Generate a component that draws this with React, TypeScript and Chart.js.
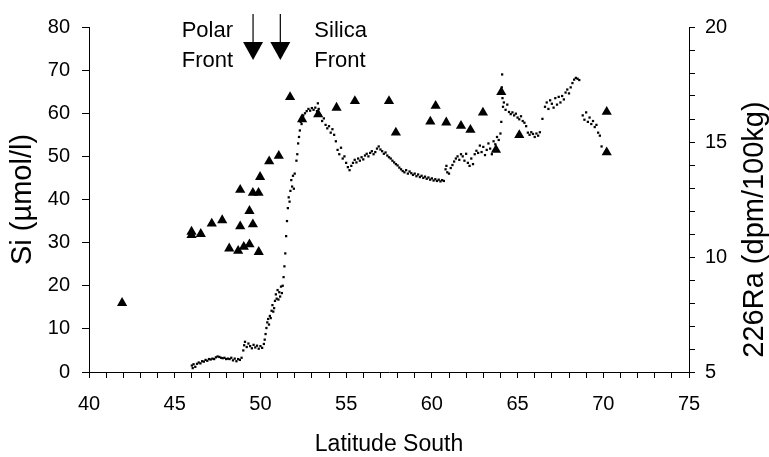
import { useEffect, useRef } from 'react';
import { Chart, registerables } from 'chart.js';

Chart.register(...registerables);

// 226Ra samples (right axis, dpm/100kg)
const raLatitude = [
  41.93, 45.98, 45.98, 46.52, 47.16, 47.77, 48.18, 48.82, 48.82, 48.7,
  49.03, 49.36, 49.36, 49.56, 49.56, 49.89, 49.9, 49.98, 50.51, 51.07,
  51.73, 52.43, 53.37, 54.44, 55.51, 57.5, 57.9, 59.91, 60.22, 60.84,
  61.7, 62.25, 62.98, 63.74, 64.05, 65.1, 70.2, 70.2,
];
const raValues = [
  8.0, 11.1, 10.95, 11.0, 11.45, 11.6, 10.37, 12.92, 11.33, 10.27,
  10.44, 10.55, 12.0, 12.79, 11.42, 12.79, 10.22, 13.48, 14.16, 14.4,
  16.95, 15.99, 16.2, 16.49, 16.78, 16.78, 15.41, 15.89, 16.57, 15.85,
  15.7, 15.53, 16.28, 14.66, 17.17, 15.3, 16.31, 14.55,
];

// Underway silicate (left axis, µmol/l)
const siLatitude = [
  46.0, 46.05, 46.1, 46.2, 46.3, 46.4, 46.5, 46.6, 46.7, 46.8, 46.9, 47.0, 47.1, 47.2, 47.3, 47.4,
  47.5, 47.6, 47.7, 47.8, 47.9, 48.0, 48.1, 48.2, 48.3, 48.4, 48.5, 48.6, 48.7, 48.8, 48.9,
  49.0, 49.05, 49.1, 49.2, 49.3, 49.4, 49.5, 49.6, 49.7, 49.8, 49.9, 50.0, 50.1, 50.2,
  50.25, 50.3, 50.35, 50.4, 50.45, 50.5, 50.55, 50.6, 50.65, 50.7, 50.75, 50.8, 50.85, 50.9,
  50.95, 51.0, 51.05, 51.1, 51.15, 51.2, 51.25, 51.3, 51.35, 51.4, 51.45, 51.5, 51.55, 51.6,
  51.65, 51.7, 51.75, 51.8, 51.85, 51.9, 51.95, 52.0, 52.1, 52.15, 52.2, 52.25, 52.3, 52.35, 52.4,
  52.5, 52.6, 52.7, 52.8, 52.9, 53.0, 53.1, 53.2, 53.3, 53.35, 53.4, 53.5, 53.6, 53.7, 53.8,
  53.9, 54.0, 54.1, 54.2, 54.3, 54.4,
  54.5, 54.6, 54.7, 54.8, 54.9, 55.0, 55.1, 55.2, 55.3, 55.4, 55.5, 55.6, 55.7, 55.8, 55.9,
  56.0, 56.1, 56.2, 56.3, 56.4, 56.5, 56.6, 56.7, 56.8, 56.9, 57.0, 57.1, 57.2, 57.3, 57.4,
  57.5, 57.6, 57.7, 57.8, 57.9, 58.0, 58.1, 58.2, 58.3, 58.4, 58.5, 58.6, 58.7, 58.8, 58.9,
  59.0, 59.1, 59.2, 59.3, 59.4, 59.5, 59.6, 59.7, 59.8, 59.9, 60.0, 60.1, 60.2, 60.3, 60.4,
  60.5, 60.6, 60.7,
  60.8, 60.85, 60.9, 61.0, 61.1, 61.2, 61.3, 61.4, 61.5, 61.6, 61.7, 61.8, 61.9, 62.0, 62.1,
  62.2, 62.3, 62.4, 62.5, 62.6, 62.7, 62.8, 62.9, 63.0, 63.1, 63.2, 63.3, 63.4, 63.5, 63.6,
  63.7, 63.8, 63.9, 64.0,
  64.05, 64.08, 64.1, 64.12, 64.15, 64.2, 64.3, 64.4, 64.5, 64.6, 64.7, 64.8, 64.9, 65.0,
  65.1, 65.2, 65.3, 65.4, 65.5, 65.6, 65.7, 65.8, 65.9, 66.0, 66.1, 66.2, 66.3, 66.45,
  66.6, 66.7, 66.8, 66.9, 67.0, 67.1, 67.2, 67.3, 67.4, 67.5, 67.6, 67.7, 67.8, 67.9, 68.0,
  68.1, 68.2, 68.3, 68.4, 68.5, 68.6,
  68.8, 68.9, 69.0, 69.1, 69.2, 69.3, 69.4, 69.5, 69.6, 69.7, 69.8, 69.9,
];
const siValues = [
  1.5, 0.9, 1.8, 1.2, 1.9, 2.2, 2.0, 2.5, 2.4, 2.8, 2.6, 3.0, 2.9, 3.1, 3.0, 3.4,
  3.6, 3.5, 3.3, 3.2, 3.3, 3.0, 3.1, 3.0, 3.3, 2.7, 3.1, 2.5, 3.0, 2.8, 3.3,
  5.0, 6.2, 7.0, 5.8, 6.6, 6.0, 5.5, 6.3, 5.7, 6.1, 5.4, 6.0, 5.6, 6.5,
  7.5, 8.8, 10.2, 11.5, 12.3, 11.0, 13.0, 12.5, 14.2, 15.5, 14.0, 14.8, 16.5, 18.0,
  17.0, 19.0, 16.8, 18.5, 17.5, 19.8, 18.3, 20.0, 22.0, 24.5, 27.5, 31.5, 35.0, 38.0,
  40.5, 39.5, 42.0, 44.5, 43.0, 45.5, 42.5, 46.0, 49.0, 50.5, 53.0, 54.5, 56.0, 58.0, 57.5,
  59.5, 60.0, 60.5, 61.0, 60.6, 61.2, 60.8, 61.3, 60.5, 62.3, 61.0, 59.5, 58.2, 58.8, 57.3,
  56.5, 57.0, 55.5, 56.3, 55.0, 53.5,
  51.5, 50.5, 52.0, 49.5, 50.0, 48.5, 47.5, 46.8, 47.8, 48.5, 49.2, 48.6, 49.5, 49.0, 49.8,
  49.3, 50.2, 50.6, 50.0, 50.8, 51.2, 50.5, 51.0, 51.8, 52.3, 51.6, 51.2, 50.6, 50.9, 50.2,
  49.8, 49.5, 49.0, 48.6, 48.2, 47.9, 47.4, 47.0, 46.6, 46.3, 46.8, 46.0, 46.5, 46.1, 45.7,
  46.0, 45.4, 45.8, 45.2, 45.5, 45.0, 45.3, 44.8, 45.1, 44.6, 44.9, 44.4, 44.7, 44.3, 44.6,
  44.2, 44.5, 44.3,
  47.0, 47.8, 46.3, 46.0, 47.3, 48.0, 48.8, 49.5, 50.0, 49.2, 50.5, 50.0, 49.0, 50.6, 48.5,
  47.8, 49.5, 48.2, 50.5, 51.3, 50.8, 52.5, 51.0, 52.2, 50.3, 51.5, 53.0, 51.8, 50.5, 53.5,
  52.8, 54.5, 53.8, 55.3,
  58.0, 66.0, 69.0, 63.5, 61.5, 62.5, 60.8, 62.0, 60.3, 59.8, 60.2, 59.5, 59.9, 59.0,
  58.6, 59.3, 58.2, 57.8, 57.0, 55.5, 55.0, 55.6, 55.2, 54.5, 55.3, 54.8, 55.6, 58.7,
  61.5, 62.5, 61.0, 63.0, 62.2, 61.3, 63.5, 62.0, 63.8, 62.5, 64.0, 63.2, 64.8, 65.5, 64.6,
  66.0, 67.0, 67.8, 68.2, 68.0, 67.7,
  59.5, 58.5, 60.2, 58.0, 59.0, 57.5, 58.2, 56.8, 57.3, 55.5, 54.8, 52.3,
];

// Front positions (latitude) and their labels
const frontLatitudes = [49.57, 51.16];
const frontLabels = [
  ['Polar', 'Front'],
  ['Silica', 'Front'],
];

const xLabelEvery = 5;
const rightLabelEvery = 5;

const FONT = '"Liberation Sans", Arial, Helvetica, sans-serif';

export default function App() {
  const ref = useRef<HTMLCanvasElement>(null);

  useEffect(() => {
    if (!ref.current) return;

    const frontsPlugin = {
      id: 'frontsAndRightTitle',
      afterDraw(chart: any) {
        const { ctx, chartArea, scales } = chart;
        const xs = scales.x;
        const top = chartArea.top;
        ctx.save();
        ctx.fillStyle = '#000';
        ctx.strokeStyle = '#000';
        frontLatitudes.forEach((lat) => {
          const px = xs.getPixelForValue(lat);
          ctx.lineWidth = 1.2;
          ctx.beginPath();
          ctx.moveTo(px, top - 13);
          ctx.lineTo(px, top + 16);
          ctx.stroke();
          ctx.beginPath();
          ctx.moveTo(px - 10, top + 15);
          ctx.lineTo(px + 10, top + 15);
          ctx.lineTo(px, top + 33);
          ctx.closePath();
          ctx.fill();
        });
        ctx.font = `22px ${FONT}`;
        ctx.textBaseline = 'alphabetic';
        const p0 = xs.getPixelForValue(frontLatitudes[0]);
        ctx.textAlign = 'right';
        ctx.fillText(frontLabels[0][0], p0 - 20, top + 9.5);
        ctx.fillText(frontLabels[0][1], p0 - 20, top + 39.5);
        const p1 = xs.getPixelForValue(frontLatitudes[1]);
        ctx.textAlign = 'left';
        ctx.fillText(frontLabels[1][0], p1 + 34, top + 9.5);
        ctx.fillText(frontLabels[1][1], p1 + 34, top + 39.5);

        // right axis title, reading bottom to top
        ctx.translate(chart.width - 14, (chartArea.top + chartArea.bottom) / 2 + 30);
        ctx.rotate(-Math.PI / 2);
        ctx.font = `29px ${FONT}`;
        ctx.textAlign = 'center';
        ctx.textBaseline = 'middle';
        ctx.fillText('226Ra (dpm/100kg)', 0, 0);
        ctx.restore();
      },
    };

    const tickFont = { family: FONT, size: 20 };

    const chart = new Chart(ref.current, {
      type: 'scatter',
      data: {
        datasets: [
          {
            label: '226Ra',
            data: raLatitude.map((x, i) => ({ x, y: raValues[i] })),
            yAxisID: 'y1',
            pointStyle: 'triangle',
            pointRadius: 5.9,
            backgroundColor: '#000',
            borderColor: '#000',
            pointBorderWidth: 0,
          },
          {
            label: 'Si',
            data: siLatitude.map((x, i) => ({ x, y: siValues[i] })),
            yAxisID: 'y',
            pointStyle: 'rect',
            pointRadius: 1.6,
            backgroundColor: '#000',
            borderColor: '#000',
            pointBorderWidth: 0,
          },
        ],
      },
      options: {
        responsive: true,
        maintainAspectRatio: false,
        animation: false,
        events: [],
        layout: { padding: { top: 27, left: 0, right: 0, bottom: 0 } },
        plugins: {
          legend: { display: false },
          tooltip: { enabled: false },
        },
        scales: {
          x: {
            type: 'linear',
            position: 'bottom',
            min: 40,
            max: 75,
            ticks: {
              stepSize: 1,
              autoSkip: false,
              maxRotation: 0,
              minRotation: 0,
              padding: 14,
              color: '#000',
              font: tickFont,
              callback: (v: any) => (Number(v) % xLabelEvery === 0 ? String(v) : ''),
            },
            grid: { drawOnChartArea: false, drawTicks: true, tickLength: 6, color: '#000', lineWidth: 1 },
            border: { display: true, color: '#000', width: 1 },
            title: {
              display: true,
              text: 'Latitude South',
              color: '#000',
              font: { family: FONT, size: 23, lineHeight: 1 },
              padding: { top: 0, bottom: 0.5 },
            },
            afterFit: (s: any) => {
              s.height = 85;
            },
          },
          y: {
            type: 'linear',
            position: 'left',
            min: 0,
            max: 80,
            ticks: { stepSize: 10, padding: 12, color: '#000', font: tickFont },
            grid: { drawOnChartArea: false, drawTicks: true, tickLength: 7, color: '#000', lineWidth: 1 },
            border: { display: true, color: '#000', width: 1 },
            title: {
              display: true,
              text: 'Si (µmol/l)',
              color: '#000',
              font: { family: FONT, size: 29, lineHeight: 1 },
              padding: { top: 8, bottom: 0 },
            },
            afterFit: (s: any) => {
              s.width = 89;
            },
          },
          y1: {
            type: 'linear',
            position: 'right',
            min: 5,
            max: 20,
            ticks: {
              stepSize: 1,
              autoSkip: false,
              padding: 10,
              color: '#000',
              font: tickFont,
              callback: (v: any) => (Number(v) % rightLabelEvery === 0 ? String(v) : ''),
            },
            grid: { drawOnChartArea: false, drawTicks: true, tickLength: 6, color: '#000', lineWidth: 1 },
            border: { display: true, color: '#000', width: 1 },
            afterFit: (s: any) => {
              s.width = 80;
            },
          },
        },
      },
      plugins: [frontsPlugin],
    });

    return () => chart.destroy();
  }, []);

  return (
    <div style={{ position: 'absolute', left: 0, top: 0, width: 769, height: 457, background: '#fff' }}>
      <canvas ref={ref} />
    </div>
  );
}
